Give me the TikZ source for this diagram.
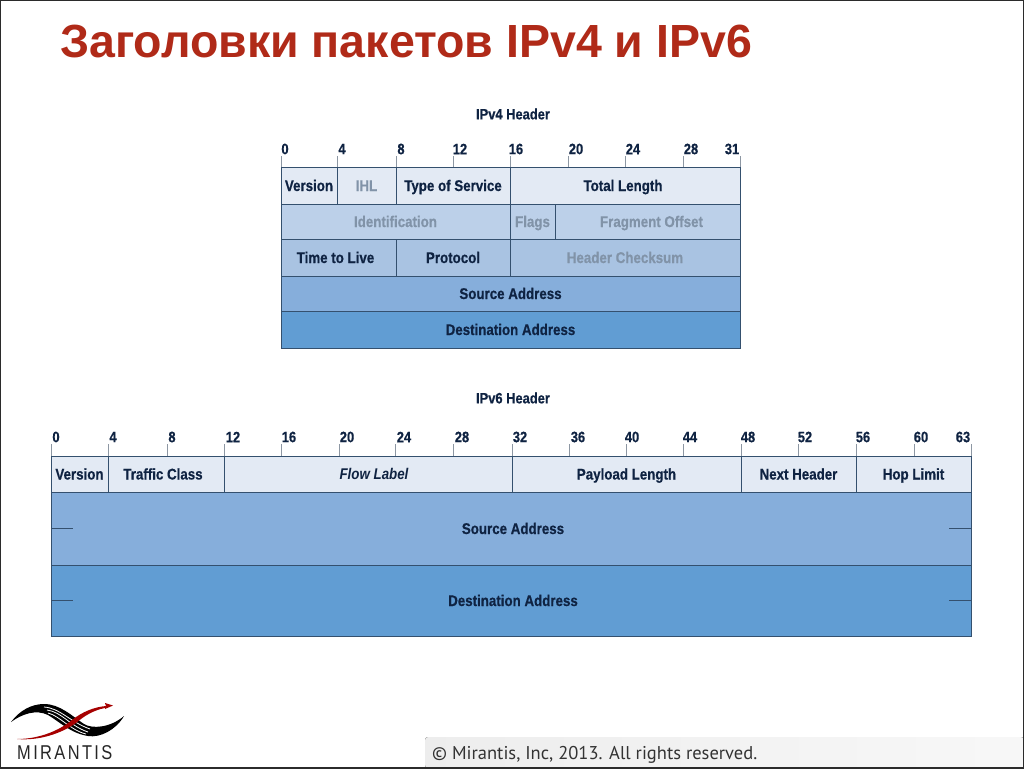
\documentclass[tikz,border=0pt]{standalone}
\usepackage{fontspec}
\setmainfont{Liberation Sans}
\newfontfamily\headfont[FakeStretch=0.86,BoldFeatures={FakeBold=0.5}]{Liberation Sans}
\newfontfamily\footfont{PT Sans}
\newfontfamily\logofont[LetterSpace=12,FakeStretch=0.82]{Liberation Sans}
\usepackage{xcolor}
\usepackage{tikz}
\usetikzlibrary{positioning,calc}
\definecolor{framecol}{HTML}{2B2B2B}
\definecolor{titlecol}{HTML}{B02A18}
\definecolor{linecol}{HTML}{34506E}
\definecolor{rulecol}{HTML}{8D97A3}
\definecolor{darktxt}{HTML}{0F2342}
\definecolor{greytxt}{HTML}{8193A8}
\definecolor{rowa}{HTML}{E3EAF4}
\definecolor{rowb}{HTML}{BCD0E9}
\definecolor{rowc}{HTML}{A9C3E2}
\definecolor{rowd}{HTML}{86AEDB}
\definecolor{rowe}{HTML}{619DD3}
\tikzset{
  cell/.style={draw=linecol,line width=0.8pt,inner sep=0pt,outer sep=0pt,text=darktxt,text height=12.5pt,text depth=1.5pt,font=\headfont\bfseries\fontsize{15.5}{17}\selectfont},
  faded/.style={cell,text=greytxt},
  bitnum/.style={inner sep=0pt,text=darktxt,font=\headfont\bfseries\fontsize{15}{17}\selectfont},
  tick/.style={draw=rulecol,line width=1pt}
}
\begin{document}
\begin{tikzpicture}[x=1pt,y=-1pt]
\useasboundingbox (0,0) rectangle (1024,768);
\fill[white] (0,0) rectangle (1024,768);
% footer band
\fill[left color=black!7,right color=black!3,rounded corners=3pt] (425,737) rectangle (1024,768);
\node[anchor=base west,inner sep=0pt,text=black!80,font=\footfont\fontsize{18.5}{22}\selectfont] (rights) at (432,759) {© Mirantis, Inc, 2013. All rights reserved.};
\draw[framecol,line width=2pt] (0,0) rectangle (1024,768);
% title
\node[anchor=base west,inner sep=0pt,text=titlecol,font=\bfseries\fontsize{46.5}{50}\selectfont] (title) at (60,58) {Заголовки пакетов IPv4 и IPv6};
% IPv4
\node[bitnum] (cap4) at (513,114) {IPv4 Header};
\foreach \x/\lab/\pos in {281/0/285,337/4/342,396/8/401,453/12/460,510/16/516,568/20/576,625/24/633,683/28/691,740/31/732}{
  \draw[tick] (\x,167)--(\x,156);
  \node[bitnum] (bit4-\lab) at (\pos,149) {\lab};
}
\node[cell,fill=rowa,minimum width=56pt,minimum height=37pt] (ver4) at (309,185.5) {Version};
\node[faded,fill=rowa,minimum width=59pt,minimum height=37pt] (ihl) at (366.5,185.5) {IHL};
\node[cell,fill=rowa,minimum width=114pt,minimum height=37pt] (tos) at (453,185.5) {Type of Service};
\node[cell,fill=rowa,minimum width=230pt,minimum height=37pt] (total) at (625,185.5) {Total Length\hspace*{4pt}};
\node[faded,fill=rowb,minimum width=229pt,minimum height=35pt] (ident) at (395.5,221.5) {Identification};
\node[faded,fill=rowb,minimum width=45pt,minimum height=35pt] (flags) at (532.5,221.5) {Flags};
\node[faded,fill=rowb,minimum width=185pt,minimum height=35pt] (frag) at (647.5,221.5) {\hspace*{8pt}Fragment Offset};
\node[cell,fill=rowc,minimum width=115pt,minimum height=37pt] (ttl) at (338.5,257.5) {Time to Live\hspace*{6pt}};
\node[cell,fill=rowc,minimum width=114pt,minimum height=37pt] (proto) at (453,257.5) {Protocol};
\node[faded,fill=rowc,minimum width=230pt,minimum height=37pt] (check) at (625,257.5) {Header Checksum};
\node[cell,fill=rowd,minimum width=459pt,minimum height=35pt] (src4) at (510.5,293.5) {Source Address};
\node[cell,fill=rowe,minimum width=459pt,minimum height=37pt] (dst4) at (510.5,329.5) {Destination Address};
% IPv6
\node[bitnum] (cap6) at (513,398) {IPv6 Header};
\foreach \x/\lab/\pos in {51/0/56,108/4/113,167/8/172,224/12/233,281/16/289,339/20/347,395/24/404,453/28/462,512/32/520,569/36/578,626/40/632,683/44/690,741/48/748,798/52/805,856/56/863,914/60/921,971/63/963}{
  \draw[tick] (\x,456)--(\x,444);
  \node[bitnum] (bit6-\lab) at (\pos,437) {\lab};
}
\node[cell,fill=rowa,minimum width=57pt,minimum height=36pt] (ver6) at (79.5,474) {Version};
\node[cell,fill=rowa,minimum width=116pt,minimum height=36pt] (traffic) at (166,474) {Traffic Class\hspace*{6pt}};
\node[cell,fill=rowa,minimum width=288pt,minimum height=36pt,font=\headfont\bfseries\itshape\fontsize{15.5}{17}\selectfont] (flow) at (368,474) {\hspace*{12pt}Flow Label};
\node[cell,fill=rowa,minimum width=229pt,minimum height=36pt] (payload) at (626.5,474) {Payload Length};
\node[cell,fill=rowa,minimum width=115pt,minimum height=36pt] (next) at (798.5,474) {Next Header};
\node[cell,fill=rowa,minimum width=115pt,minimum height=36pt] (hop) at (913.5,474) {Hop Limit};
\node[cell,fill=rowd,minimum width=920pt,minimum height=73pt] (src6) at (511,528.5) {\hspace*{4pt}Source Address};
\node[cell,fill=rowe,minimum width=920pt,minimum height=71pt] (dst6) at (511,600.5) {\hspace*{4pt}Destination Address};
\draw[linecol,line width=0.8pt] (src6.west)--++(22,0);
\draw[linecol,line width=0.8pt] (src6.east)--++(-22,0);
\draw[linecol,line width=0.8pt] (dst6.west)--++(22,0);
\draw[linecol,line width=0.8pt] (dst6.east)--++(-22,0);
% logo
\fill[black] (11,722) .. controls (20,710) and (32,704) .. (44,704) .. controls (60,704) and (72,716) .. (84,724) .. controls (92,729) and (110,728) .. (124,716) .. controls (116,730) and (100,738) .. (88,736) .. controls (70,733) and (60,722) .. (48,715) .. controls (36,709) and (22,714) .. cycle;
\draw[white,line width=0.8pt] (44,707) .. controls (60,708) and (70,722) .. (90,729);
\draw[white,line width=0.8pt] (47,710) .. controls (62,712) and (70,726) .. (88,732);
\draw[white,line width=0.8pt] (48,713) .. controls (60,716) and (70,730) .. (86,734);
\fill[red!65!black] (17,739) .. controls (40,739) and (60,730) .. (72,720) .. controls (82,712) and (94,707) .. (106,706) -- (105,703) -- (113,705.5) -- (105,709) -- (105,708) .. controls (94,710) and (84,716) .. (76,723) .. controls (62,733) and (40,741) .. cycle;
\node[anchor=base west,inner sep=0pt,text=black!85,font=\logofont\fontsize{20}{22}\selectfont] (brand) at (17,759) {MIRANTIS};
\end{tikzpicture}
\end{document}
